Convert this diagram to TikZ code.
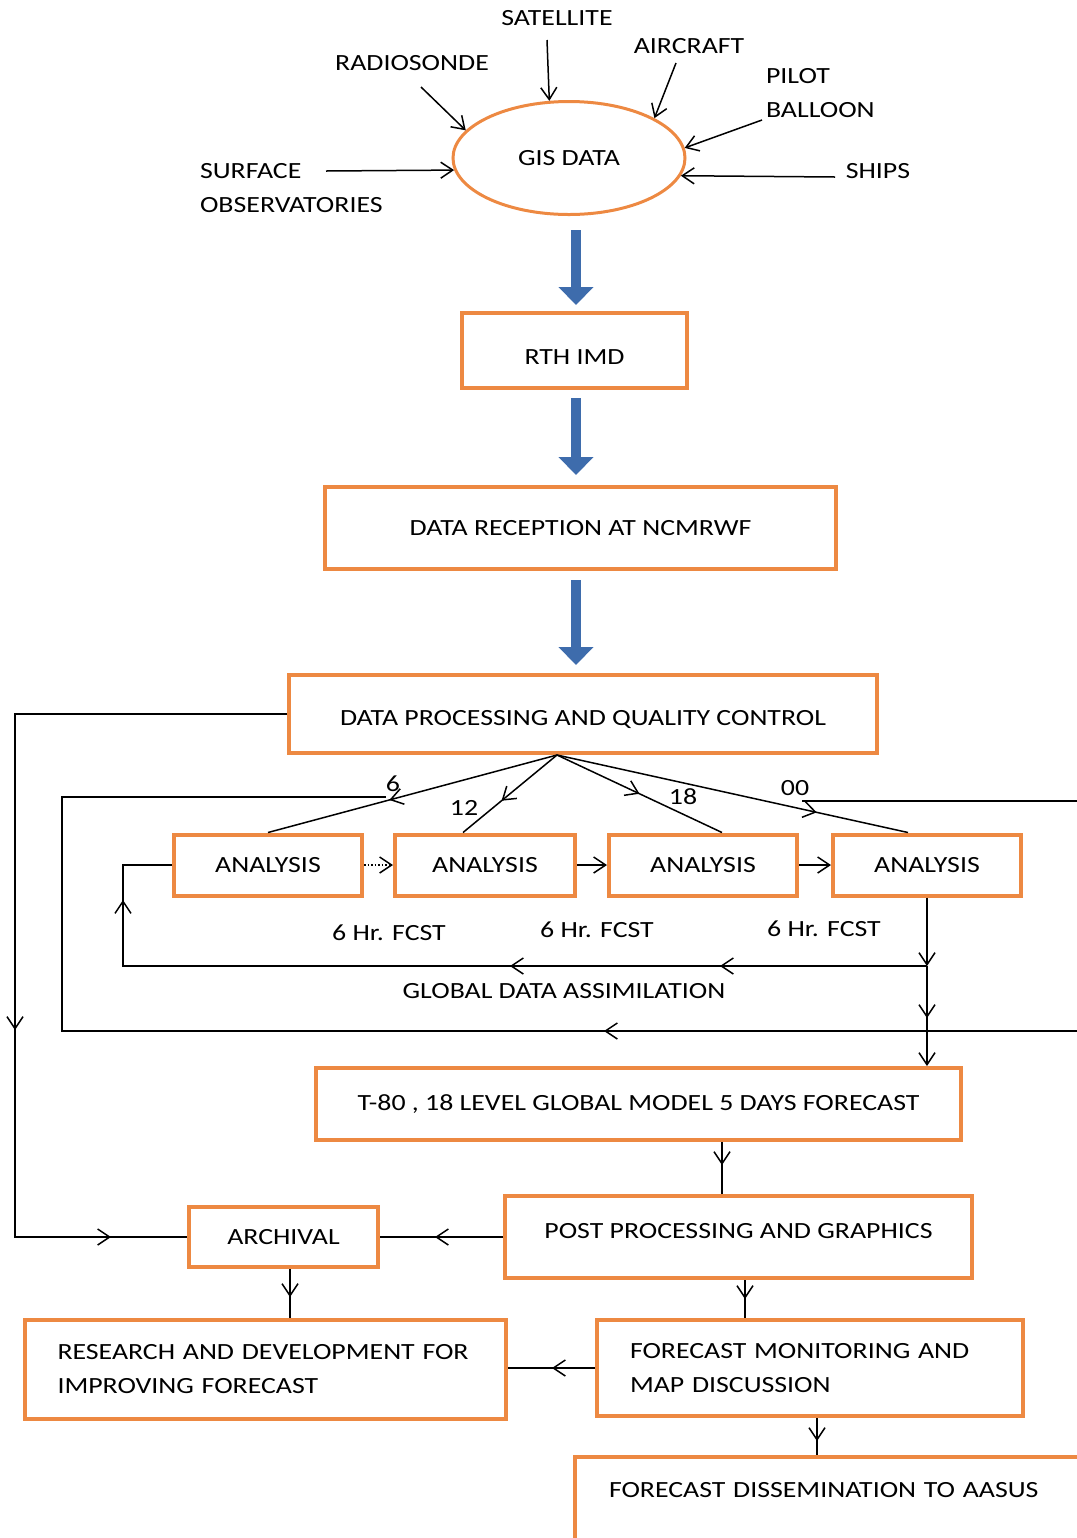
\documentclass[tikz,border=0pt]{standalone}
\usepackage{fontspec}
\setmainfont{Carlito}[FakeStretch=1.2]
\usetikzlibrary{arrows.meta,shapes.geometric,decorations.markings}
\definecolor{boxorange}{RGB}{237,137,66}
\definecolor{arrowblue}{RGB}{62,108,172}

\begin{document}
\begin{tikzpicture}[x=0.5pt,y=-0.5pt,
    font=\fontsize{11.6}{17}\selectfont,
    line/.style={line width=0.75pt},
    arr/.style={line, -{Straight Barb[length=6pt,width=8pt]}},
    tipat/.style={postaction={decorate,decoration={markings,
        mark=at position #1 with {\arrow{Straight Barb[length=6pt,width=8pt]}}}}},
    box/.style={draw=boxorange, line width=2pt, inner sep=0pt},
    anbox/.style={box, minimum width=94pt, minimum height=30.5pt},
    bigarrow/.style={line width=5pt, draw=arrowblue, -{Triangle[length=9pt,width=17pt]}}]
    \useasboundingbox (0,0) rectangle (1077,1538);
    \clip (0,0) rectangle (1077,1538);

    \node[ellipse, draw=boxorange, line width=1.5pt, minimum width=116pt, minimum height=56.5pt] (gis) at (569,158) {GIS DATA};
    \node (sat) at (557,18) {SATELLITE};
    \node (radio) at (412,63) {RADIOSONDE};
    \node (air) at (689,46) {AIRCRAFT};
    \node[align=left, anchor=west] (pilot) at (759,93) {PILOT\\BALLOON};
    \node[align=left, anchor=west] (surf) at (193,188) {SURFACE\\OBSERVATORIES};
    \node (ships) at (878,171) {SHIPS};
    \coordinate (satp) at (547,40);
    \coordinate (radp) at (421,87);
    \coordinate (airp) at (676,63);
    \coordinate (pilp) at (762,120);
    \coordinate (surfp) at (326,171);
    \coordinate (shipp) at (835,177);
    \draw[arr] (satp) -- (gis.109);
    \draw[arr] (radp) -- (gis.165);
    \draw[arr] (airp) -- (gis.25);
    \draw[arr] (pilp) -- (gis.5);
    \draw[arr] (surfp) -- (gis.186);
    \draw[arr] (shipp) -- (gis.351);

    \node[box, minimum width=112.5pt, minimum height=37.5pt, text height=13.5pt] (rth) at (574.5,350.5) {RTH IMD};
    \node[box, minimum width=255.5pt, minimum height=41pt] (recv) at (580.5,528) {DATA RECEPTION AT NCMRWF};
    \node[box, minimum width=294pt, minimum height=39pt, text height=13pt] (dpqc) at (583,714) {DATA PROCESSING AND QUALITY CONTROL};
    \coordinate (bx) at (576,0);
    \draw[bigarrow] ([yshift=-7pt]gis.south -| bx) -- ([yshift=3pt]rth.north -| bx);
    \draw[bigarrow] ([yshift=-4pt]rth.south -| bx) -- ([yshift=5pt]recv.north -| bx);
    \draw[bigarrow] ([yshift=-4.5pt]recv.south -| bx) -- ([yshift=4pt]dpqc.north -| bx);

    \node[anbox] (an1) at (268,865) {ANALYSIS};
    \node[anbox, minimum width=90pt] (an2) at (485,865) {ANALYSIS};
    \node[anbox] (an3) at (703,865) {ANALYSIS};
    \node[anbox] (an4) at (927,865) {ANALYSIS};
    \coordinate (fan) at (557,755);
    \draw[line, tipat=0.58] (fan) -- (an1.north);
    \draw[line, tipat=0.59] (fan) -- ([xshift=-11pt]an2.north);
    \draw[line, tipat=0.5] (fan) -- ([xshift=9.5pt]an3.north);
    \draw[line, tipat=0.74] (fan) -- ([xshift=-9.5pt]an4.north);
    \node (h6) at (393,784) {6};
    \node (h12) at (464,808) {12};
    \node (h18) at (683,797) {18};
    \node (h00) at (795,788) {00};
    \draw[arr, densely dotted] (an1) -- (an2);
    \draw[arr] (an2) -- (an3);
    \draw[arr] (an3) -- (an4);

    \coordinate (loopR) at (802,801);
    \coordinate (loopL) at (386,797);
    \draw[line, tipat=512pt] (loopR) -- (1100,801) -- (1100,1031) -- (62,1031) -- (62,797) -- (loopL);

    \node (f1) at (389,933) {6 Hr. FCST};
    \node (f2) at (597,930) {6 Hr. FCST};
    \node (f3) at (824,929) {6 Hr. FCST};
    \node (gdat) at (564,991) {GLOBAL DATA ASSIMILATION};
    \coordinate (gda) at (927,966);
    \coordinate (gdaL) at (123,966);
    \draw[arr] (an4) -- (gda);
    \draw[line, tipat=103.5pt, tipat=208.5pt, tipat=435pt] (gda) -- (gdaL) |- (an1.west);

    \node[box, minimum width=322.5pt, minimum height=36pt] (t80) at (638.5,1104) {T-80 , 18 LEVEL GLOBAL MODEL 5 DAYS FORECAST};
    \draw[arr, tipat=26pt] (gda) -- (t80.north -| gda);

    \node[box, minimum width=94.5pt, minimum height=30pt] (arch) at (283.5,1237) {ARCHIVAL};
    \node[box, minimum width=233.5pt, minimum height=41pt, text depth=6pt] (post) at (738.5,1237) {POST PROCESSING AND GRAPHICS};
    \node[box, minimum width=240.5pt, minimum height=49.5pt, align=left, text width=208pt] (rnd) at (265.5,1369.5) {RESEARCH AND DEVELOPMENT FOR\\IMPROVING FORECAST};
    \node[box, minimum width=213pt, minimum height=48pt, align=left, text width=180pt] (fmon) at (810,1368) {FORECAST MONITORING AND\\MAP DISCUSSION};
    \node[box, anchor=north west, inner xsep=17pt, text width=226pt, align=left, text height=20pt, text depth=40pt] (diss) at (573,1455) {FORECAST DISSEMINATION TO AASUS};

    \coordinate (tp) at (722,0);
    \coordinate (ap) at (290,0);
    \coordinate (pp) at (745,0);
    \coordinate (dp) at (817,0);
    \draw[line, tipat=294pt, tipat=445.5pt] (dpqc.west) -| (15,1237) -- (arch.west);
    \draw[line, tipat=11.5pt] (t80.south -| tp) -- (post.north -| tp);
    \draw[line, tipat=34pt] (post.west) -- (arch.east);
    \draw[line, tipat=14pt] (arch.south -| ap) -- (rnd.north -| ap);
    \draw[line, tipat=9.5pt] (post.south -| pp) -- (fmon.north -| pp);
    \draw[line, tipat=21.5pt] (fmon.west) -- (fmon.west -| rnd.east);
    \draw[line, tipat=11.5pt] (fmon.south -| dp) -- (diss.north -| dp);
\end{tikzpicture}
\end{document}
